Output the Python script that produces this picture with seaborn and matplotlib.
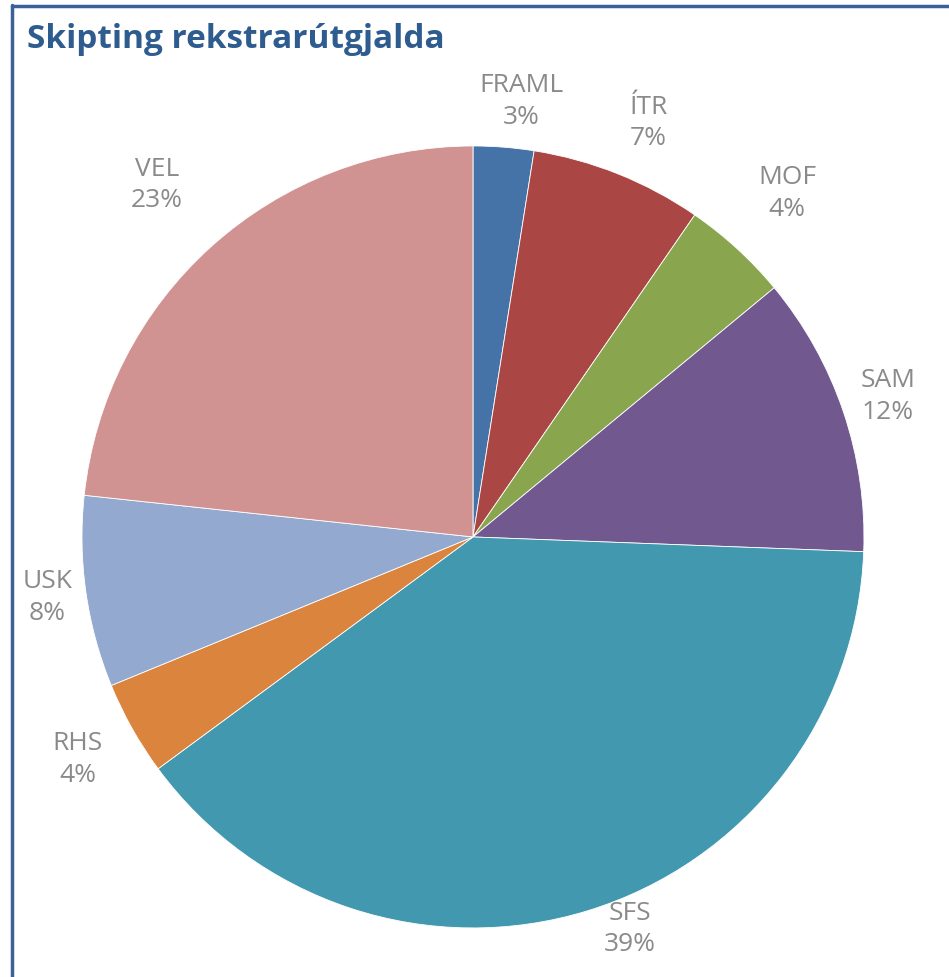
import numpy as np
import matplotlib
matplotlib.use("Agg")
import matplotlib.pyplot as plt
import seaborn as sns

# data (clockwise from 12 o'clock)
categories = ["FRAML", "ÍTR", "MOF", "SAM", "SFS", "RHS", "USK", "VEL"]
shares = [2.5, 7.1, 4.4, 11.6, 39.3, 3.9, 7.9, 23.3]
pct_labels = ["3%", "7%", "4%", "12%", "39%", "4%", "8%", "23%"]

colors = ["#4572A7", "#AA4643", "#89A54E", "#71588F",
          "#4198AF", "#DB843D", "#93A9CF", "#D19392"]
# label placement: distance from centre (radii) and angle nudge (deg, clockwise)
label_dist = [1.12, 1.15, 1.19, 1.12, 1.08, 1.16, 1.10, 1.21]
label_nudge = [1.8, 1.2, 0, 0, -4.7, 0, 0, 0]

sns.set_theme(style="white")
plt.rcParams["font.family"] = ["Open Sans", "DejaVu Sans"]

fig = plt.figure(figsize=(9.49, 9.77), dpi=100)
ax = fig.add_axes([0.0864, 0.0502, 0.824, 0.8004])

wedges, _ = ax.pie(shares, colors=colors, startangle=90, counterclock=False,
                   wedgeprops=dict(edgecolor="white", linewidth=0.6))
ax.set_aspect("equal")
ax.set_xlim(-1, 1)
ax.set_ylim(-1, 1)

for w, name, pct, d, nd in zip(wedges, categories, pct_labels,
                               label_dist, label_nudge):
    ang = np.deg2rad((w.theta1 + w.theta2) / 2 - nd)
    ax.text(d * np.cos(ang), d * np.sin(ang), f"{name}\n{pct}",
            ha="center", va="center", fontsize=19, color="#8A8A8A",
            linespacing=1.35)

fig.text(27 / 949, 1 - 40 / 977, "Skipting rekstrarútgjalda", fontsize=24,
         fontweight="bold", color="#2F5C8F", ha="left", va="center")

# chart frame: only the top and left edges show in the crop
fig.add_artist(plt.Line2D([11.5 / 949, 11.5 / 949], [0, 1 - 5 / 977],
                          color="#3A6296", linewidth=2.5))
fig.add_artist(plt.Line2D([11.5 / 949, 1], [1 - 5.5 / 977, 1 - 5.5 / 977],
                          color="#3A6296", linewidth=2.5))

fig.savefig("out.png", dpi=100)
